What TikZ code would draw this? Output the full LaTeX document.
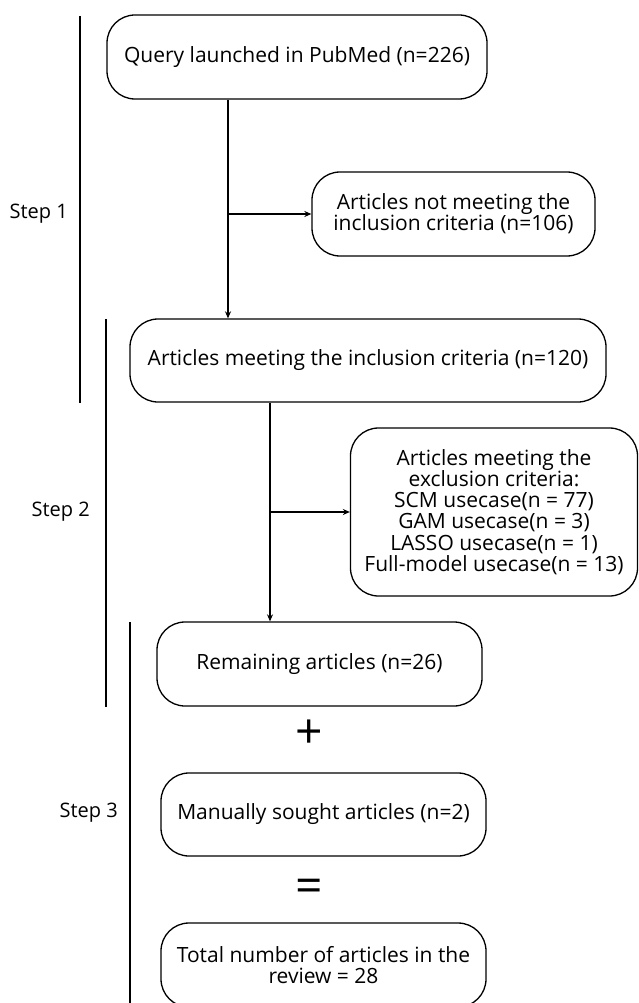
\documentclass[tikz,border=0pt]{standalone}
\usepackage{fontspec}
\setmainfont{Open Sans}
\usetikzlibrary{arrows.meta}
\tikzset{
  box/.style={draw=black, line width=1.3pt, rounded corners=28pt, align=center, inner sep=0pt, font=\fontsize{21}{21.3}\selectfont},
  arr/.style={line width=1.3pt, -{Stealth[length=7pt,width=6pt]}},
  stepline/.style={line width=1.3pt},
  steplbl/.style={font=\fontsize{20}{21}\selectfont, inner sep=0pt},
  sym/.style={font=\fontsize{48}{48}\selectfont, inner sep=0pt}
}
\begin{document}
\begin{tikzpicture}[x=1pt,y=-1pt]
\useasboundingbox (0,0) rectangle (639,1003);
\clip (0,0) rectangle (639,1003);
\node[box, minimum width=380pt, minimum height=84pt] (q) at (297,57) {Query launched in PubMed (n=226)};
\node[box, minimum width=283pt, minimum height=84pt] (nm) at (453.5,214) {Articles not meeting the\\inclusion criteria (n=106)};
\node[box, minimum width=476pt, minimum height=83pt] (inc) at (368,360.5) {Articles meeting the inclusion criteria (n=120)};
\node[box, minimum width=287pt, minimum height=168pt] (exc) at (494,512) {Articles meeting the\\exclusion criteria:\\SCM usecase(n = 77)\\GAM usecase(n = 3)\\LASSO usecase(n = 1)\\Full-model usecase(n = 13)};
\node[box, minimum width=325pt, minimum height=84pt] (rem) at (319.5,664) {Remaining articles (n=26)};
\node[sym] (plus) at (309,734) {+};
\node[sym] (eq) at (309.5,891) {=};
\node[box, minimum width=325pt, minimum height=83pt] (man) at (323.5,814.5) {Manually sought articles (n=2)};
\node[box, minimum width=325pt, minimum height=84pt] (tot) at (323.5,965) {Total number of articles in the\\review = 28};
% connectors
\coordinate (a1) at (228,0);
\coordinate (a2) at (270,0);
\draw[arr] (q.south -| a1) -- (inc.north -| a1);
\draw[arr] (a1 |- nm.west) -- (nm.west);
\draw[arr] (inc.south -| a2) -- (rem.north -| a2);
\draw[arr] (a2 |- exc.west) -- (exc.west);
% step brackets
\coordinate (s1a) at (80,16); \coordinate (s1b) at (80,403);
\coordinate (s2a) at (106,319); \coordinate (s2b) at (106,707);
\coordinate (s3a) at (130,622); \coordinate (s3b) at (130,1010);
\draw[stepline] (s1a) -- (s1b);
\draw[stepline] (s2a) -- (s2b);
\draw[stepline] (s3a) -- (s3b);
\node[steplbl, anchor=east] (l1) at (68,214) {Step 1};
\node[steplbl, anchor=east] (l2) at (90,512) {Step 2};
\node[steplbl, anchor=east] (l3) at (118,813) {Step 3};
\end{tikzpicture}
\end{document}
